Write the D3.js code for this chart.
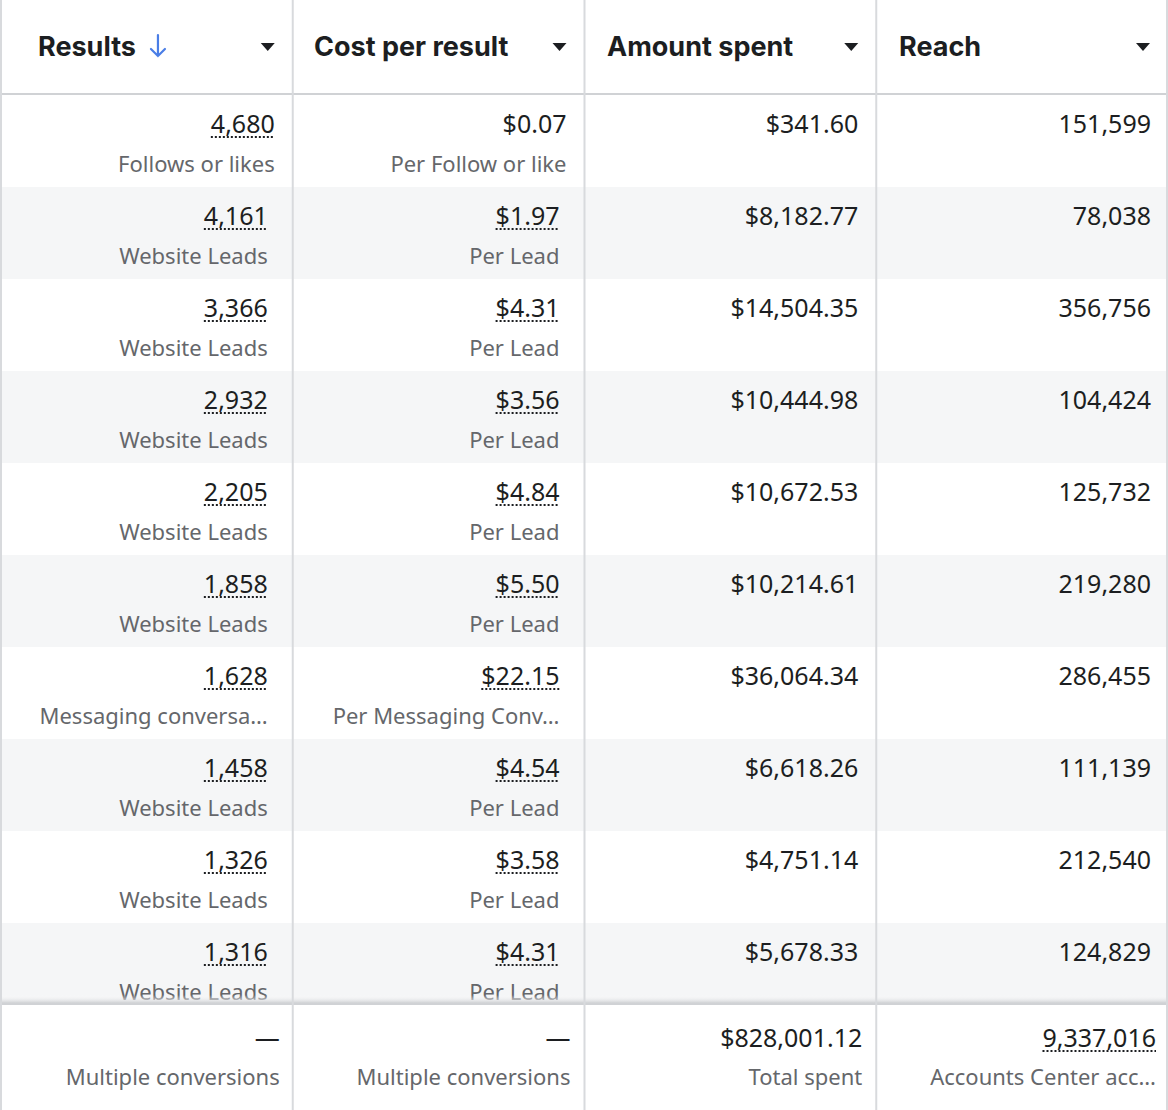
<!DOCTYPE html><html><head><meta charset="utf-8">
<script src="https://cdn.jsdelivr.net/npm/d3@7"></script>
<style>body{margin:0;background:#fff}svg{display:block}</style></head><body>
<script>
const columns=["Results","Cost per result","Amount spent","Reach"];
const results=["4,680","4,161","3,366","2,932","2,205","1,858","1,628","1,458","1,326","1,316"];
const resultTypes=["Follows or likes","Website Leads","Website Leads","Website Leads","Website Leads","Website Leads","Messaging conversa…","Website Leads","Website Leads","Website Leads"];
const costs=["$0.07","$1.97","$4.31","$3.56","$4.84","$5.50","$22.15","$4.54","$3.58","$4.31"];
const costTypes=["Per Follow or like","Per Lead","Per Lead","Per Lead","Per Lead","Per Lead","Per Messaging Conv…","Per Lead","Per Lead","Per Lead"];
const spent=["$341.60","$8,182.77","$14,504.35","$10,444.98","$10,672.53","$10,214.61","$36,064.34","$6,618.26","$4,751.14","$5,678.33"];
const reach=["151,599","78,038","356,756","104,424","125,732","219,280","286,455","111,139","212,540","124,829"];
const totals=["—","—","$828,001.12","9,337,016"];
const totalLabels=["Multiple conversions","Multiple conversions","Total spent","Accounts Center acc…"];

const W=1168,H=1110;
const svg=d3.select("body").append("svg").attr("width",W).attr("height",H).style("font-family","'Noto Sans', Roboto, sans-serif");
const x=d3.scaleBand().domain(d3.range(4)).range([1,W]);
const y=d3.scaleBand().domain(d3.range(results.length)).range([95,95+92*10]);
svg.append("g").selectAll("rect").data(d3.range(results.length)).join("rect")
 .attr("x",0).attr("width",W).attr("y",i=>y(i)).attr("height",y.bandwidth())
 .attr("fill",i=>i%2?"#f5f6f7":"#fff");
const cells=[[results,resultTypes,true],[costs,costTypes,true],[spent,null,false],[reach,null,false]];
cells.forEach(([vals,subs,dotted],c)=>{
  vals.forEach((v,i)=>{
    const pad = (c<2)?(i===0?18:25):(c===2?18:17);
    const xr=x(c)+x.bandwidth()-pad;
    const dot = dotted && !(c===1&&i===0);
    const t=svg.append("text").attr("x",xr).attr("y",y(i)+38).attr("text-anchor","end")
      .attr("font-size",25).attr("fill","#1c1e21").text(v);
    if(dot){const bb=t.node().getBBox();
      svg.append("line").attr("x1",bb.x).attr("x2",bb.x+bb.width).attr("y1",y(i)+42).attr("y2",y(i)+42)
        .attr("stroke","#1c1e21").attr("stroke-width",2).attr("stroke-dasharray","2,2");}
    if(subs) svg.append("text").attr("x",xr).attr("y",y(i)+77).attr("text-anchor","end")
      .attr("font-size",22).attr("fill","#65676b").text(subs[i]);
  });
});
svg.append("rect").attr("x",0).attr("y",1003).attr("width",W).attr("height",H-1003).attr("fill","#fff");
const sh=svg.append("defs").append("linearGradient").attr("id","sh").attr("x1",0).attr("x2",0).attr("y1",0).attr("y2",1);
sh.append("stop").attr("offset",0).attr("stop-color","#fff").attr("stop-opacity",0);
sh.append("stop").attr("offset",1).attr("stop-color","#cfd1d4");
svg.append("rect").attr("x",0).attr("y",995).attr("width",W).attr("height",8).attr("fill","url(#sh)");
svg.append("line").attr("x1",0).attr("x2",W).attr("y1",1004).attr("y2",1004).attr("stroke","#d0d2d5").attr("stroke-width",2);
const fpad=[13,14,14,12];
totals.forEach((v,c)=>{
  const xr=x(c)+x.bandwidth()-fpad[c];
  const t=svg.append("text").attr("x",xr).attr("y",1047).attr("text-anchor","end").attr("font-size",25).attr("fill","#1c1e21").text(v);
  if(c===3){const bb=t.node().getBBox();
    svg.append("line").attr("x1",bb.x).attr("x2",bb.x+bb.width).attr("y1",1051).attr("y2",1051)
      .attr("stroke","#1c1e21").attr("stroke-width",2).attr("stroke-dasharray","2,2");}
  svg.append("text").attr("x",xr).attr("y",1085).attr("text-anchor","end").attr("font-size",22).attr("fill","#65676b").text(totalLabels[c]);
});
svg.append("rect").attr("x",0).attr("y",0).attr("width",W).attr("height",94).attr("fill","#fff");
svg.append("line").attr("x1",0).attr("x2",W).attr("y1",94).attr("y2",94).attr("stroke","#d0d2d5").attr("stroke-width",2);
const hx=[38,314,607,899];
columns.forEach((h,c)=>{
  const t=svg.append("text").attr("x",hx[c]).attr("y",56).attr("font-size",27).attr("font-weight",700)
   .attr("font-family","Inter, 'Open Sans', sans-serif").attr("fill","#1c1e21").text(h);
  if(c===0){const bb=t.node().getBBox();const ax=bb.x+bb.width+22;
    svg.append("path").attr("d",`M${ax},35 V56 M${ax-7},49 L${ax},56 L${ax+7},49`).attr("fill","none").attr("stroke","#4a7ee6").attr("stroke-width",2.2).attr("stroke-linecap","round");}
  const tx=x(c)+x.bandwidth()-25;
  svg.append("path").attr("d",`M${tx-7},43 L${tx+7},43 L${tx},51 Z`).attr("fill","#1c1e21");
});
svg.selectAll(".v").data([0,1,2,3,4]).join("line").attr("x1",i=>i===4?W-1:x(i)).attr("x2",i=>i===4?W-1:x(i))
 .attr("y1",0).attr("y2",H).attr("stroke","#d8dadd").attr("stroke-width",2);
</script></body></html>
